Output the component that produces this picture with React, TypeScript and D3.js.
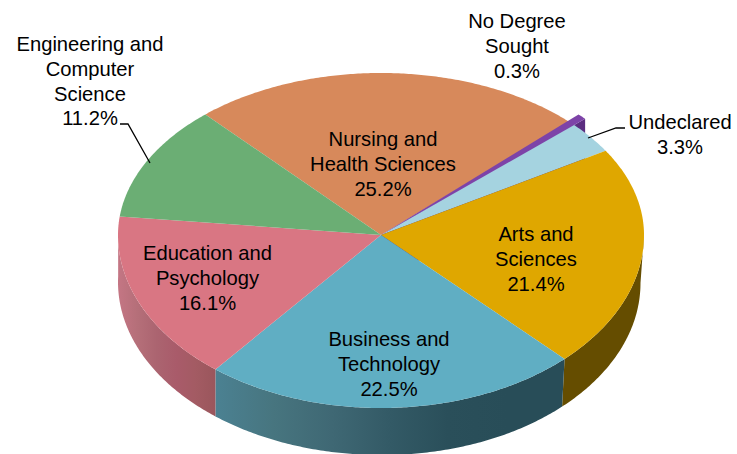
import React from "react";
import * as d3 from "d3";

const categories = ["Nursing and Health Sciences", "No Degree Sought", "Undeclared", "Arts and Sciences", "Business and Technology", "Education and Psychology", "Engineering and Computer Science"];
const values = [25.2, 0.3, 3.3, 21.4, 22.5, 16.1, 11.2];
const topColors = ["#d7895b", "#7d43a8", "#a5d3e0", "#dfa700", "#60aec3", "#d97683", "#6bae74"];
const sideStops: string[][] = [
  [], [], [],
  ["#654d00", "#654d00"],
  ["#4b8192", "#47757f", "#3f6874", "#335a66", "#2a4f5a", "#284d58", "#284d58"],
  ["#c47684", "#b56f79", "#ab6470", "#a95b6a", "#a35b63", "#9a565c"],
  [],
];
const labelLines = [
  ["Nursing and", "Health Sciences", "25.2%"],
  ["No Degree", "Sought", "0.3%"],
  ["Undeclared", "3.3%"],
  ["Arts and", "Sciences", "21.4%"],
  ["Business and", "Technology", "22.5%"],
  ["Education and", "Psychology", "16.1%"],
  ["Engineering and", "Computer", "Science", "11.2%"],
];
const labelAnchors: [number, number][] = [
  [383, 146], [517, 28], [680, 129], [536, 241], [389, 346], [207.5, 260], [90, 51],
];

const W = 737, H = 454;
const cx = 381, cy = 235, rx = 263, ryTop = 162, ryBottom = 173, depth = 47;
const lineStep = 24.8;
// perspective correction of the drawn angle, in degrees
const warp = d3.scaleLinear().domain([-45, 45, 135, 216.7, 274.7, 315]).range([3.1, 0, 0, 2.3, 1.9, 3.1]);
const sliverSpread = (0.45 * Math.PI) / 180;

const project = (a0: number, k = 1, dy = 0): [number, number] => {
  const deg = (a0 * 180) / Math.PI;
  const a = a0 + (warp(deg) * Math.PI) / 180;
  const c = Math.cos(a);
  return [cx + rx * k * Math.sin(a), cy - (c > 0 ? ryTop : ryBottom) * k * c + dy];
};
// the lower rim sits slightly narrower and deeper on the right-hand side
const projectLower = (a: number): [number, number] => {
  const [x, y] = project(a, 1, depth);
  const s = Math.max(0, Math.sin(a));
  return [x - 3.5 * s, y + s];
};
const samples = (a0: number, a1: number) => {
  const n = Math.max(2, Math.ceil(Math.abs(a1 - a0) / 0.01));
  return d3.range(n + 1).map((i) => a0 + ((a1 - a0) * i) / n);
};
const poly = d3.line();

const arcs = d3.pie<number>().sort(null).startAngle(-Math.PI / 4).endAngle((7 * Math.PI) / 4)(values);

export default function App() {
  const tops = arcs.map((s, i) => {
    const sliver = i === 1;
    const k = sliver ? 1.057 : 1;
    const a0 = sliver ? s.startAngle - sliverSpread : s.startAngle;
    const a1 = sliver ? s.endAngle + sliverSpread : s.endAngle;
    const pts = [[cx, cy] as [number, number], ...samples(a0, a1).map((a) => project(a, k))];
    return { i, el: <path key={categories[i]} d={poly(pts)! + "Z"} fill={topColors[i]} /> };
  });
  const purpleArc = arcs[1];
  const tip = project(purpleArc.endAngle + sliverSpread, 1.057);
  const cutFace: [number, number][] = [tip, [tip[0], tip[1] + depth], [cx, cy + depth], [cx, cy]];

  const sides = arcs.map((s, i) => {
    const from = Math.max(s.startAngle, Math.PI / 2);
    const to = Math.min(s.endAngle, (3 * Math.PI) / 2);
    if (to <= from) return null;
    const angles = samples(from, to);
    const upper = angles.map((a) => project(a));
    const lower = angles.map((a) => projectLower(a)).reverse();
    const xs = upper.map((p) => p[0]);
    const id = `side${i}`;
    const stops = sideStops[i];
    return (
      <g key={id}>
        <linearGradient id={id} gradientUnits="userSpaceOnUse" x1={d3.min(xs)!} x2={d3.max(xs)!} y1={0} y2={0}>
          {stops.map((c, j) => (
            <stop key={j} offset={j / (stops.length - 1)} stopColor={c} />
          ))}
        </linearGradient>
        <path d={poly([...upper, ...lower])! + "Z"} fill={`url(#${id})`} />
      </g>
    );
  });

  return (
    <svg width={W} height={H} viewBox={`0 0 ${W} ${H}`} style={{ position: "absolute", left: 0, top: 0, display: "block", background: "#fff" }}>
      {sides}
      <path d={poly(cutFace)! + "Z"} fill="#5b2d80" />
      {tops.filter((t) => t.i !== 1).map((t) => t.el)}
      {tops.filter((t) => t.i === 1).map((t) => t.el)}
      <polyline points="120,124 128,124 150,163" fill="none" stroke="#000" strokeWidth={1.3} />
      <polyline points="588,138 616,128 625,128" fill="none" stroke="#000" strokeWidth={1.3} />
      <g fontFamily="'Liberation Sans', Arial, sans-serif" fontSize={20.2} fill="#000" textAnchor="middle">
        {labelLines.map((lines, i) => (
          <text key={i} x={labelAnchors[i][0]} y={labelAnchors[i][1]}>
            {lines.map((l, j) => (
              <tspan key={j} x={labelAnchors[i][0]} dy={j === 0 ? 0 : lineStep}>{l}</tspan>
            ))}
          </text>
        ))}
      </g>
    </svg>
  );
}
